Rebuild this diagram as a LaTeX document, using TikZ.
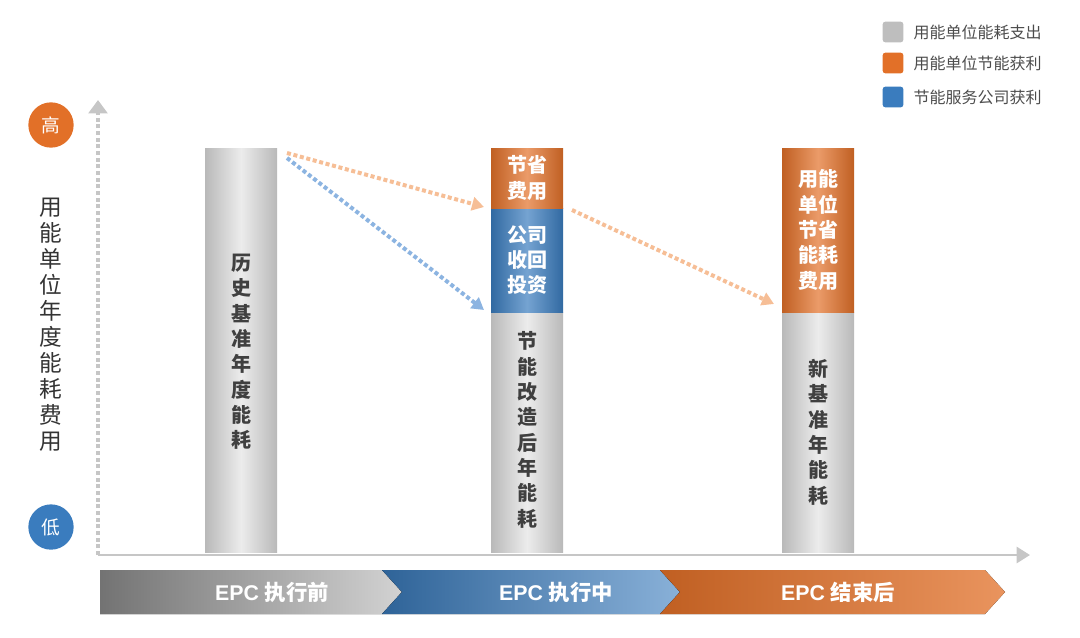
\documentclass[tikz,border=0pt]{standalone}
\usepackage{fontspec}
\setmainfont{Liberation Sans}
\newfontfamily\cjk{Noto Sans CJK SC}
\usetikzlibrary{positioning,arrows.meta}
\definecolor{epcorange}{RGB}{226,112,40}
\definecolor{epcblue}{RGB}{58,124,190}
\definecolor{epcgray}{RGB}{190,190,190}
\definecolor{lightorange}{RGB}{246,190,150}
\definecolor{lightblue}{RGB}{140,180,225}
\tikzset{
  graybar/.style={left color=gray!55, right color=gray!55, middle color=gray!15, draw=none},
  orangebar/.style={left color=epcorange!85!black, right color=epcorange!85!black, middle color=epcorange!70, draw=none},
  bluebar/.style={left color=epcblue!85!black, right color=epcblue!85!black, middle color=epcblue!70, draw=none},
  bartext/.style={font=\cjk\bfseries\fontsize{15}{19}\selectfont, align=center},
  legendbox/.style={minimum size=15.5pt, rounded corners=2pt, draw=none},
  legendtext/.style={font=\cjk\fontsize{12}{14}\selectfont, text=black!70, anchor=west},
  dotarrow/.style={line width=3pt, dotted, -{Triangle[length=9pt,width=10pt]}},
  phasetext/.style={text=white, font=\bfseries\fontsize{16}{18}\selectfont}
}
\begin{document}
\begin{tikzpicture}[x=0.75pt, y=-0.75pt]
  \useasboundingbox (0,0) rectangle (1080,637);
  % legenda
  \node[legendbox, fill=epcgray] (lg1) at (893,32) {};
  \node[legendbox, fill=epcorange] (lg2) at (893,63) {};
  \node[legendbox, fill=epcblue] (lg3) at (893,97) {};
  \node[legendtext] (lt1) at (909,32) {用能单位能耗支出};
  \node[legendtext] (lt2) at (909,63) {用能单位节能获利};
  \node[legendtext] (lt3) at (909,97) {节能服务公司获利};
  % assi
  \coordinate (O) at (98,555);
  \coordinate (ytop) at (98,100);
  \coordinate (xend) at (1030,555);
  \draw[line width=3pt, dotted, draw=gray!45, -{Triangle[length=10pt,width=14pt]}] (O) -- (ytop);
  \draw[line width=2pt, draw=gray!45, -{Triangle[length=10pt,width=12pt]}] (O) -- (xend);
  \node[circle, fill=epcorange, minimum size=34pt, text=white, font=\cjk\fontsize{14}{16}\selectfont] (hi) at (51,125) {高};
  \node[circle, fill=epcblue, minimum size=34pt, text=white, font=\cjk\fontsize{14}{16}\selectfont] (lo) at (51,527) {低};
  \node[font=\cjk\fontsize{17}{19.5}\selectfont, align=center, text=black!80] (ylab) at (51,325)
    {用\\能\\单\\位\\年\\度\\能\\耗\\费\\用};
  % colonne
  \fill[graybar] (205,148) rectangle (277,552);
  \node[bartext, text=black!75] (b1) at (241,352) {历\\史\\基\\准\\年\\度\\能\\耗};
  \fill[graybar] (491,312) rectangle (563,552);
  \fill[bluebar] (491,208) rectangle (563,312);
  \fill[orangebar] (491,148) rectangle (563,208);
  \node[bartext, text=white] (b2a) at (527,178) {节省\\费用};
  \node[bartext, text=white] (b2b) at (527,260) {公司\\收回\\投资};
  \node[bartext, text=black!75] (b2c) at (527,430) {节\\能\\改\\造\\后\\年\\能\\耗};
  \fill[graybar] (782,312) rectangle (854,552);
  \fill[orangebar] (782,148) rectangle (854,312);
  \node[bartext, text=white] (b3a) at (818,230) {用能\\单位\\节省\\能耗\\费用};
  \node[bartext, text=black!75] (b3b) at (818,432) {新\\基\\准\\年\\能\\耗};
  % frecce
  \coordinate (s1) at (287,153);
  \coordinate (s2) at (287,158);
  \coordinate (s3) at (572,210);
  \coordinate (e1) at (484,207);
  \coordinate (e2) at (484,310);
  \coordinate (e3) at (774,304);
  \draw[dotarrow, lightorange] (s1) -- (e1);
  \draw[dotarrow, lightblue] (s2) -- (e2);
  \draw[dotarrow, lightorange] (s3) -- (e3);
  % fasi
  \fill[left color=gray!90!black, right color=gray!35] (100,570) -- (382,570) -- (402,592) -- (382,614) -- (100,614) -- cycle;
  \fill[left color=epcblue!80!black, right color=epcblue!60] (382,570) -- (660,570) -- (680,592) -- (660,614) -- (382,614) -- (402,592) -- cycle;
  \fill[left color=epcorange!85!black, right color=epcorange!75] (660,570) -- (985,570) -- (1005,592) -- (985,614) -- (660,614) -- (680,592) -- cycle;
  \node[phasetext] (p1) at (272,592) {EPC \cjk\bfseries 执行前};
  \node[phasetext] (p2) at (556,592) {EPC \cjk\bfseries 执行中};
  \node[phasetext] (p3) at (838,592) {EPC \cjk\bfseries 结束后};
\end{tikzpicture}
\end{document}
